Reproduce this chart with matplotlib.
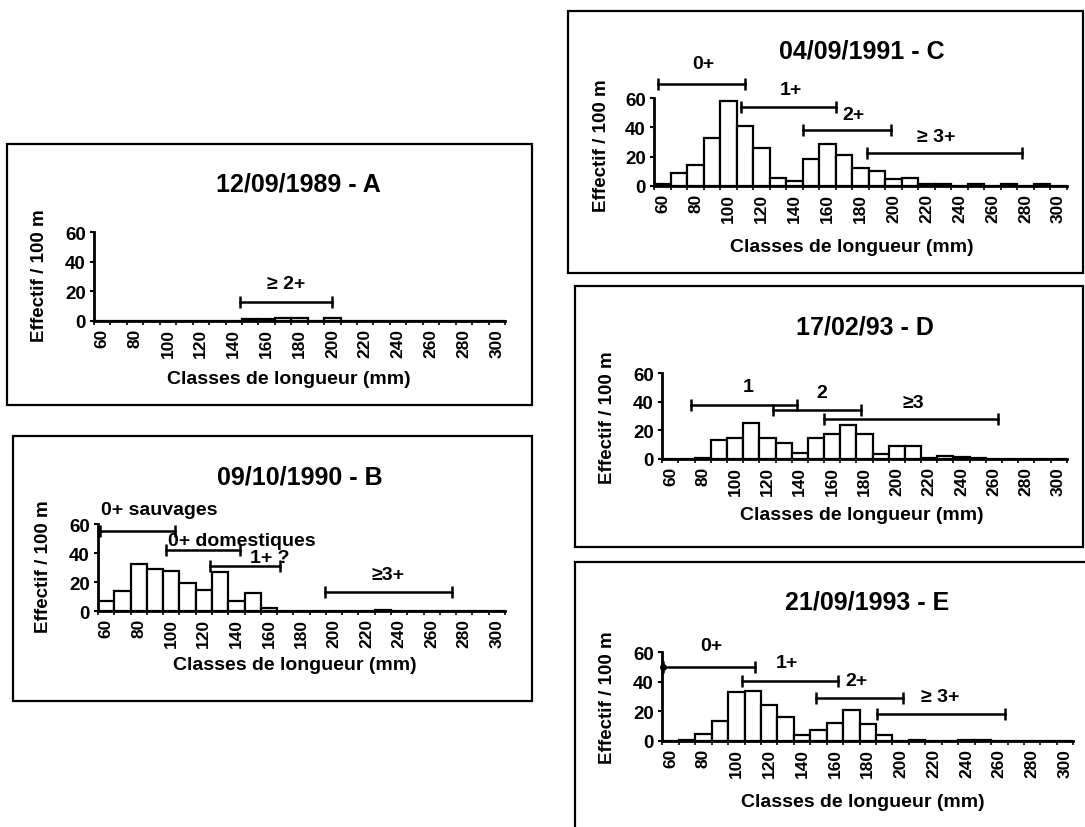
import matplotlib
matplotlib.use("Agg")
import matplotlib.pyplot as plt
from matplotlib.patches import Rectangle

plt.rcParams['font.family'] = ['Liberation Sans', 'DejaVu Sans']
plt.rcParams['font.weight'] = 'bold'

# ---------------- data ----------------
length_classes = [60, 70, 80, 90, 100, 110, 120, 130, 140, 150, 160, 170, 180,
                  190, 200, 210, 220, 230, 240, 250, 260, 270, 280, 290, 300]
tick_labels = ['60', '80', '100', '120', '140', '160', '180', '200', '220',
               '240', '260', '280', '300']

titles = ['12/09/1989 - A', '09/10/1990 - B', '04/09/1991 - C',
          '17/02/93 - D', '21/09/1993 - E']

vals_A = [0, 0, 0, 0, 0, 0, 0, 0, 0, 1, 1, 1.5, 1.5, 0, 1.5, 0, 0, 0, 0, 0, 0, 0, 0, 0, 0]
vals_B = [7, 14, 32.5, 29, 27.5, 19.5, 14.7, 27, 7, 12.6, 2.3, 0, 0, 0, 0.5, 0.5,
          0, 1, 0.5, 0, 0.5, 0.5, 0, 0, 0]
vals_C = [1, 9, 14, 33, 58, 41, 26, 5, 3.5, 18, 28.5, 21, 12, 10, 4.5, 5,
          1, 1, 0, 1, 0, 1, 0, 1, 0]
vals_D = [0, 0, 1, 13, 15, 25.5, 15, 11, 4, 15, 17.5, 24, 17.5, 3.5, 9, 9,
          1, 2, 1.5, 0.5, 0, 0, 0, 0, 0]
vals_E = [0, 0.5, 4.5, 13.5, 33, 34, 24, 16, 4, 7.5, 12, 20.5, 11, 4, 0, 0.5,
          0, 0, 0.5, 0.5, 0, 0, 0, 0, 0]

# age-class ranges (mm): label, start, end, level, label_x (mm), label_y
ages_A = [('\u2265 2+', 143.6, 200.0, 13.0, 172, 25)]
ages_B = [('0+ sauvages', 56.0, 102.0, 55.0, 57, 70),
          ('0+ domestiques', 96.6, 142.5, 42.0, 98, 48.5),
          ('1+ ?', 123.6, 166.7, 31.4, 160.5, 37),
          ('\u22653+', 194.3, 272.6, 13.5, 233, 25)]
ages_C = [('0+', 57.0, 110.0, 70.0, 84.7, 84),
          ('1+', 107.3, 165.0, 54.0, 138, 66),
          ('2+', 145.3, 198.4, 38.0, 176, 49),
          ('\u2265 3+', 183.7, 277.6, 22.6, 226, 33.5)]
ages_D = [('1', 72.5, 138.1, 38.0, 108.2, 51),
          ('2', 123.7, 177.9, 34.3, 153.6, 46.7),
          ('\u22653', 155.2, 262.4, 28.0, 210, 39.7)]
ages_E = [('0+', 55.6, 111.4, 49.8, 85, 64.5),
          ('1+', 103.7, 162.1, 40.8, 130.7, 53),
          ('2+', 148.5, 201.2, 28.8, 173, 40.8),
          ('\u2265 3+', 185.4, 263.5, 18.1, 224, 30)]

# ---------------- layout (pixels) ----------------
W, H = 1085, 828
fig = plt.figure(figsize=(W / 100, H / 100), dpi=100)

def fx(x):
    return x / W

def fy(y):
    return 1 - y / H

# axes: left, right, y of 0, y of 60
axes_px = [(94, 505, 321.7, 233.3),
           (98, 505, 612.3, 525.0),
           (654.3, 1066.7, 186.7, 99.3),
           (662.3, 1066.7, 460.0, 374.3),
           (662.3, 1073.3, 741.7, 653.3)]
boxes_px = [(7, 145, 532, 406),
            (13, 437, 532, 702),
            (568, 12, 1083, 274),
            (575, 287, 1083, 548),
            (575, 563, 1092, 832)]
title_px = [(298, 185), (300, 478), (861.7, 51.7), (865, 328), (866.7, 603)]
ylabel_px = [(40, 276), (43, 567), (601, 146), (607.7, 418), (607.7, 698)]
xlabel_px = [(289, 380), (295, 666), (852, 247), (861.7, 516), (863.3, 803)]

all_vals = [vals_A, vals_B, vals_C, vals_D, vals_E]
all_ages = [ages_A, ages_B, ages_C, ages_D, ages_E]

x0 = length_classes[0]
step = length_classes[1] - length_classes[0]

def to_pos(mm):
    return (mm - x0) / step

for i in range(5):
    l, r, yb, yt = axes_px[i]
    ax = fig.add_axes([fx(l), fy(yb), fx(r) - fx(l), fy(yt) - fy(yb)])
    pos = [to_pos(v) for v in length_classes]
    ax.bar(pos, all_vals[i], width=1.0, color='white', edgecolor='black',
           linewidth=1.6, zorder=2)
    ax.set_xlim(-0.5, len(length_classes) - 0.5)
    ax.set_ylim(0, 60)
    ax.set_yticks([0, 20, 40, 60])
    ax.set_yticklabels(['0', '20', '40', '60'], fontsize=13.5, fontweight='bold')
    ax.set_xticks([to_pos(int(t)) for t in tick_labels])
    ax.set_xticklabels(tick_labels, rotation=90, fontsize=12.5, fontweight='bold')
    ax.tick_params(axis='x', length=0, pad=5)
    ax.tick_params(axis='y', length=3, width=1.5, pad=3)
    ax.set_xticks([p - 0.5 for p in pos] + [pos[-1] + 0.5], minor=True)
    ax.tick_params(axis='x', which='minor', length=3, width=1.2)
    for s in ['top', 'right']:
        ax.spines[s].set_visible(False)
    for s in ['left', 'bottom']:
        ax.spines[s].set_linewidth(2.0)
    ax.patch.set_visible(False)

    # labels
    ax.set_xlabel('Classes de longueur (mm)', fontsize=14, fontweight='bold')
    ax.xaxis.label.set_va('center')
    ax.xaxis.set_label_coords(fx(xlabel_px[i][0]), fy(xlabel_px[i][1]),
                              transform=fig.transFigure)
    ax.set_ylabel('Effectif / 100 m', fontsize=13.5, fontweight='bold')
    ax.yaxis.label.set_va('center')
    ax.yaxis.set_label_coords(fx(ylabel_px[i][0]), fy(ylabel_px[i][1]),
                              transform=fig.transFigure)

    # age brackets
    for (lab, a, b, lev, lx, ly) in all_ages[i]:
        ax.plot([to_pos(a), to_pos(b)], [lev, lev], color='black', lw=1.8,
                marker='|', markersize=9, markeredgewidth=1.8, clip_on=False, zorder=3)
        ha = 'left' if lab.startswith('0+ ') else 'center'
        ax.text(to_pos(lx), ly, lab, ha=ha, va='center', fontsize=14,
                fontweight='bold', clip_on=False, zorder=4)
    if i == 4:
        a = all_ages[4][0][1]
        lev = all_ages[4][0][3]
        ax.plot([to_pos(a)], [lev], 'o', color='black', markersize=4, clip_on=False)

    fig.text(fx(title_px[i][0]), fy(title_px[i][1]), titles[i], ha='center',
             va='center', fontsize=18, fontweight='bold')

    bx0, by0, bx1, by1 = boxes_px[i]
    fig.patches.append(Rectangle((fx(bx0), fy(by1)), fx(bx1) - fx(bx0),
                                 fy(by0) - fy(by1), transform=fig.transFigure,
                                 fill=False, edgecolor='black', linewidth=1.6))

fig.savefig('out.png', dpi=100)
